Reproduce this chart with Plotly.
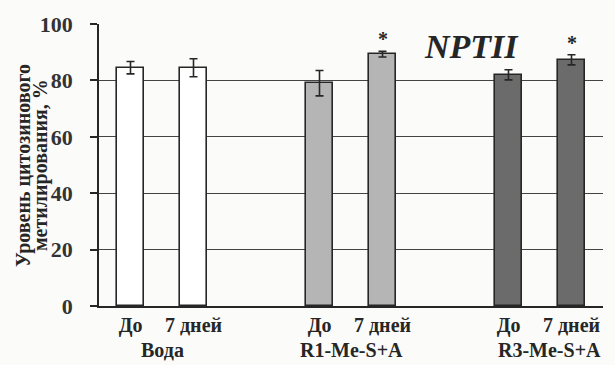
import plotly.graph_objects as go

# ---- data ----
groups = ["Вода", "R1-Me-S+A", "R3-Me-S+A"]
time_labels = ["До", "7 дней"]
positions = [0, 1, 3, 4, 6, 7]
values = [84.5, 84.5, 79.0, 89.3, 82.0, 87.3]
errors = [2.2, 3.2, 4.5, 1.0, 1.8, 1.8]
significant = [False, False, False, True, False, True]
bar_colors = ["#ffffff", "#ffffff", "#b5b5b5", "#b5b5b5", "#6b6b6b", "#6b6b6b"]
y_ticks = [0, 20, 40, 60, 80, 100]
gene_label = "NPTII"
y_title_lines = ["Уровень цитозинового", "метилирования, %"]

FONT = "Liberation Serif"
INK = "#262626"

fig = go.Figure()
fig.add_trace(go.Bar(
    x=positions, y=values, width=0.43,
    marker=dict(color=bar_colors, line=dict(color=INK, width=1.6)),
    error_y=dict(type="data", array=errors, visible=True,
                 color=INK, thickness=1.6, width=4),
    showlegend=False,
))

annotations = []
# significance asterisks
for p, v, e, s in zip(positions, values, errors, significant):
    if s:
        annotations.append(dict(x=p, y=v + e + 4.3, xref="x", yref="y",
                                text="<b>*</b>", showarrow=False,
                                font=dict(family=FONT, size=20, color=INK)))
# group labels
for i, g in enumerate(groups):
    mid = (positions[2 * i] + positions[2 * i + 1]) / 2
    annotations.append(dict(x=mid + (0.15 if i == 2 else 0), y=-0.155,
                            xref="x", yref="paper", text="<b>" + g + "</b>",
                            showarrow=False, yanchor="middle",
                            font=dict(family=FONT, size=20, color=INK)))
# gene label
annotations.append(dict(x=5.42, y=92, xref="x", yref="y",
                        text="<b><i>" + gene_label + "</i></b>",
                        showarrow=False,
                        font=dict(family=FONT, size=34, color=INK)))
# y-axis title (two lines, tight spacing)
for xp, line in zip([-0.151, -0.117], y_title_lines):
    annotations.append(dict(x=xp, y=0.5, xref="paper", yref="paper",
                            text="<b>" + line + "</b>",
                            textangle=-90, showarrow=False,
                            xanchor="center", yanchor="middle",
                            font=dict(family=FONT, size=20, color=INK)))

fig.update_layout(
    width=615, height=365,
    margin=dict(l=99, r=12, t=24, b=59),
    paper_bgcolor="#fbfbf9", plot_bgcolor="#fbfbf9",
    annotations=annotations,
    bargap=0,
    font=dict(family=FONT),
)
fig.update_xaxes(
    range=[-0.5, 7.5],
    tickvals=positions,
    ticktext=["<b>" + time_labels[i % 2] + "</b>" for i in range(len(positions))],
    tickfont=dict(family=FONT, size=20, color=INK),
    ticks="", showgrid=False, zeroline=False,
    showline=True, linecolor=INK, linewidth=2,
    ticklabelstandoff=0,
)
fig.update_yaxes(
    range=[0, 100], tickvals=y_ticks,
    ticktext=["<b>%d</b>" % t for t in y_ticks],
    tickfont=dict(family=FONT, size=22, color="#333333"),
    ticks="outside", ticklen=7, tickcolor=INK, tickwidth=1.5,
    ticklabelstandoff=13,
    showgrid=True, gridcolor="#444444", gridwidth=1.3,
    zeroline=False,
    showline=True, linecolor=INK, linewidth=1.5,
)
fig.write_html("out.html")
